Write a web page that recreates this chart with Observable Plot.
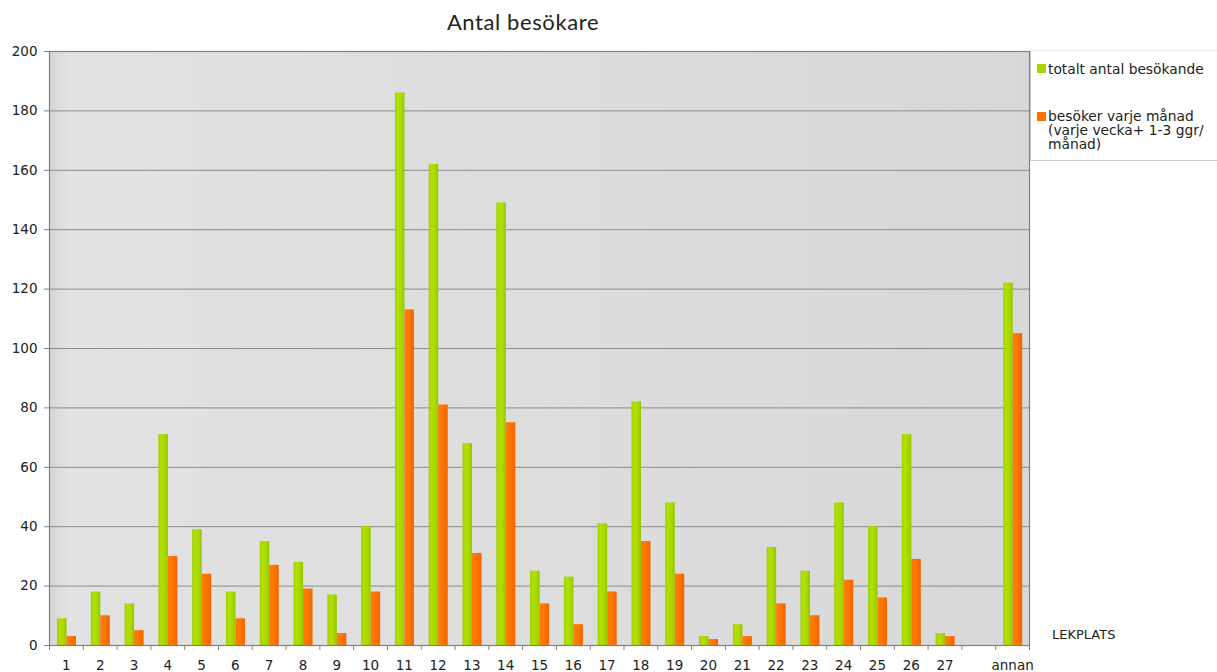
<!DOCTYPE html>
<html>
<head>
<meta charset="utf-8">
<script src="https://cdn.jsdelivr.net/npm/d3@7"></script>
<script src="https://cdn.jsdelivr.net/npm/@observablehq/plot@0.6"></script>
<style>
  body { margin: 0; background: #fff; font-family: "DejaVu Sans", Verdana, sans-serif; }
  #wrap { position: relative; width: 1217px; height: 672px; overflow: hidden; }
  #title { height: 40px; width: 1046px; text-align: center; font-family: "Lato", "Open Sans", sans-serif; font-size: 22px; line-height: 44px; color: #222; letter-spacing: 0.6px; }
  #legend { position: absolute; left: 1030px; top: 50px; width: 186px; height: 109px; border-left: 1px solid #ccc; border-bottom: 1px solid #ccc; border-top: 1px solid #eee; background: #fff; font-size: 13.8px; color: #222; }
  .item { position: absolute; left: 6px; display: flex; align-items: flex-start; white-space: nowrap; }
  .sw { width: 9px; height: 9px; margin-top: 3px; margin-right: 2px; flex: none; }
  #lek { position: absolute; left: 1052px; top: 627px; font-size: 13px; color: #222; }
</style>
</head>
<body>
<div id="wrap">
  <div id="title">Antal besökare</div>
  <div id="chart"></div>
  <div id="legend">
    <div class="item" style="top:10px"><div class="sw" style="background:#a6d600"></div><div>totalt antal besökande</div></div>
    <div class="item" style="top:58px"><div class="sw" style="background:#ff6f00"></div><div style="line-height:14px">besöker varje månad<br>(varje vecka+ 1-3 ggr/<br>månad)</div></div>
  </div>
  <div id="lek">LEKPLATS</div>
</div>
<script>
const categories = ["1","2","3","4","5","6","7","8","9","10","11","12","13","14","15","16","17","18","19","20","21","22","23","24","25","26","27","","annan"];
const totalt  = [9,18,14,71,39,18,35,28,17,40,186,162,68,149,25,23,41,82,48,3,7,33,25,48,40,71,4,null,122];
const manad   = [3,10,5,30,24,9,27,19,4,18,113,81,31,75,14,7,18,35,24,2,3,14,10,22,16,29,3,null,105];
const yTicks  = [0,20,40,60,80,100,120,140,160,180,200];

const data = categories.map((c, i) => ({cat: c, totalt: totalt[i], manad: manad[i]}));

const W = 1217, H = 632, ML = 49, MR = 188;
const bw = (W - ML - MR) / categories.length;

const chart = Plot.plot({
  width: W, height: H,
  marginLeft: ML, marginRight: MR, marginTop: 11, marginBottom: 27,
  style: {fontFamily: "'DejaVu Sans', Verdana, sans-serif", fontSize: "13px", color: "#222", background: "transparent"},
  x: {domain: categories, padding: 0, round: false, label: null},
  y: {domain: [0, 200], label: null},
  marks: [
    Plot.frame({fill: "url(#bgGrad)", stroke: null}),
    Plot.ruleY(yTicks.filter(d => d > 0 && d < 200), {stroke: "#8c8c8c", strokeWidth: 1}),
    Plot.barY(data.filter(d => d.totalt != null), {x: "cat", y: "totalt", fill: "url(#gGrad)", insetLeft: 8, insetRight: bw - 17.5}),
    Plot.barY(data.filter(d => d.manad != null), {x: "cat", y: "manad", fill: "url(#oGrad)", insetLeft: 17.5, insetRight: bw - 27}),
    Plot.frame({stroke: "#808080", strokeWidth: 1.2}),
    Plot.axisY({ticks: yTicks, tickSize: 5, tickPadding: 7, stroke: "#808080", fontSize: 13.5, label: null}),
    Plot.axisX({tickSize: 0, tickPadding: 15, fontSize: 13.5, label: null, tickFormat: d => d}),
    Plot.axisX({tickSize: 5, tickFormat: () => "", dx: -bw / 2, stroke: "#808080", label: null}),
    Plot.axisX({ticks: ["annan"], tickSize: 5, tickFormat: () => "", dx: bw / 2, stroke: "#808080", label: null})
  ]
});

const svg = d3.select(chart);
const defs = svg.insert("defs", ":first-child");
function grad(id, stops) {
  const g = defs.append("linearGradient").attr("id", id).attr("x1", "0").attr("x2", "1").attr("y1", "0").attr("y2", "0");
  stops.forEach(([o, c]) => g.append("stop").attr("offset", o).attr("stop-color", c));
}
grad("gGrad", [[0, "#9fd000"], [0.3, "#b4e000"], [0.7, "#a8d800"], [1, "#93c400"]]);
grad("oGrad", [[0, "#ff7a10"], [0.35, "#ff7a00"], [1, "#f26400"]]);
grad("bgGrad", [[0, "#d6d6d6"], [0.02, "#e2e2e2"], [0.5, "#dddddd"], [1, "#d8d8d8"]]);

document.getElementById("chart").appendChild(chart);
</script>
</body>
</html>
